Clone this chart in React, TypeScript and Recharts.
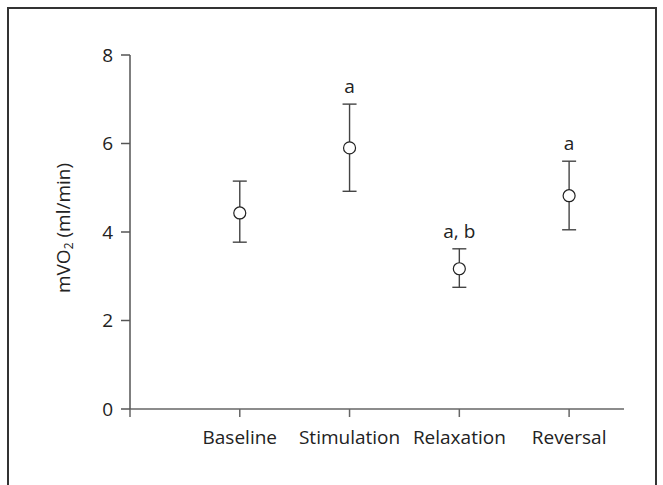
import { ComposedChart, Scatter, ErrorBar, XAxis, YAxis } from "recharts";

// values (mean with upper / lower bar ends)
const categories = ["Baseline", "Stimulation", "Relaxation", "Reversal"];
const means = [4.43, 5.9, 3.17, 4.82];
const upper = [5.15, 6.89, 3.62, 5.6];
const lower = [3.77, 4.92, 2.75, 4.05];
const marks = ["", "a", "a, b", "a"];
const yTicks = [0, 2, 4, 6, 8];
const xTicks = [0, 1, 2, 3, 4];

const data = categories.map((name, i) => ({
    x: i + 1,
    name,
    mean: means[i],
    err: [means[i] - lower[i], upper[i] - means[i]],
    top: upper[i],
    sig: marks[i],
}));

const FONT = "'Open Sans', 'DejaVu Sans', sans-serif";
const FS = 19;

function YLabel(props: any) {
    const vb = props.viewBox || {};
    const cx = 63;
    const cy = vb.y + vb.height / 2 - 4;
    return (
        <text
            x={cx}
            y={cy}
            transform={`rotate(-90, ${cx}, ${cy})`}
            textAnchor="middle"
            dominantBaseline="central"
            fill="#222"
            fontSize={FS}
            fontFamily={FONT}
        >
            mVO
            <tspan fontSize={12} dy={5}>2</tspan>
            <tspan dy={-5}> (ml/min)</tspan>
        </text>
    );
}

export default function App() {
    return (
        <div style={{ position: "absolute", left: 0, top: 0, width: 663, height: 485, background: "#fff", fontFamily: FONT }}>
            {/* figure frame */}
            <div
                style={{
                    position: "absolute",
                    left: 7,
                    top: 7,
                    width: 646,
                    height: 480,
                    borderLeft: "2px solid #333",
                    borderTop: "2px solid #333",
                    borderRight: "2px solid #333",
                }}
            />
            <div style={{ position: "absolute", left: 0, top: 0 }}>
                <ComposedChart width={663} height={485} data={data} margin={{ top: 55, right: 39, bottom: 0, left: 0 }}>
                    <XAxis
                        dataKey="x"
                        type="number"
                        domain={[0, 4.5]}
                        ticks={xTicks}
                        tickFormatter={(v: number) => categories[v - 1] ?? ""}
                        height={76}
                        stroke="#666"
                        strokeWidth={1.5}
                        tickSize={8}
                        tickMargin={14}
                        tick={{ fill: "#222", fontSize: FS, fontFamily: FONT }}
                        allowDataOverflow
                    />
                    <YAxis
                        type="number"
                        domain={[0, 8]}
                        ticks={yTicks}
                        width={130}
                        stroke="#555"
                        strokeWidth={1.5}
                        tickSize={9}
                        tickMargin={8}
                        tick={{ fill: "#222", fontSize: FS, fontFamily: FONT }}
                        label={<YLabel />}
                    />
                    <Scatter
                        dataKey="mean"
                        isAnimationActive={false}
                        shape={(p: any) => <circle cx={p.cx} cy={p.cy} r={6} fill="#fff" stroke="#222" strokeWidth={1.2} />}
                    >
                        <ErrorBar dataKey="err" direction="y" width={7} stroke="#444" strokeWidth={1.4} />
                    </Scatter>
                    <Scatter
                        dataKey="top"
                        isAnimationActive={false}
                        shape={(p: any) => (
                            <text x={p.cx} y={p.cy - 11} textAnchor="middle" fill="#222" fontSize={FS} fontFamily={FONT}>
                                {p.payload.sig}
                            </text>
                        )}
                    />
                </ComposedChart>
            </div>
        </div>
    );
}
